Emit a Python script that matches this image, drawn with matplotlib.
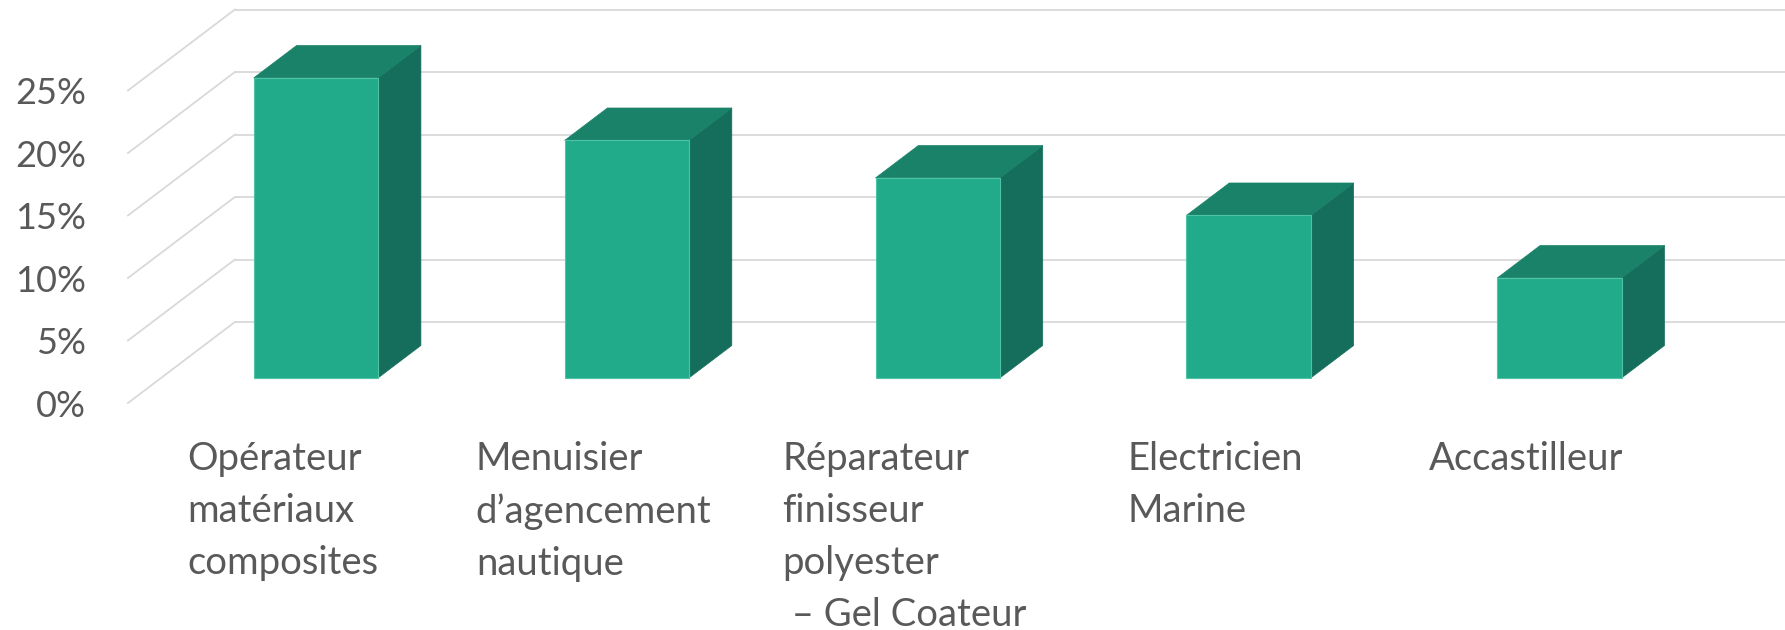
import matplotlib
matplotlib.use("Agg")
import matplotlib.pyplot as plt
from matplotlib.patches import Polygon

# ----------------------------------------------------------------------
# ## Data
# ----------------------------------------------------------------------

metiers = [
    "Opérateur\nmatériaux\ncomposites",
    "Menuisier\nd’agencement\nnautique",
    "Réparateur\nfinisseur\npolyester\n – Gel Coateur",
    "Electricien\nMarine",
    "Accastilleur",
]
parts = [24, 19, 16, 13, 8]          # in %
y_ticks = [0, 5, 10, 15, 20, 25]
y_tick_labels = ["0%", "5%", "10%", "15%", "20%", "25%"]

# ----------------------------------------------------------------------
# ## Look (Excel style 3D columns)
# ----------------------------------------------------------------------

FRONT = "#21AB8A"
TOP = "#1B826A"
SIDE = "#156E5C"
GRID = "#D9D9D9"
TEXT = "#595959"

# oblique depth of the whole plot box, in data units (categories, percent)
DEPTH_X = 0.344
DEPTH_Y = 6.48
# bars live between these fractions of the depth
BAR_FRONT, BAR_BACK = 0.31, 0.71
BAR_WIDTH = 0.40
LEFT_WALL = -0.498

plt.rcParams['font.family'] = ['Lato', 'DejaVu Sans']

fig = plt.figure(figsize=(17.85, 6.30), dpi=100)
ax = fig.add_axes([0, 0, 1, 1])
ax.set_xlim(-0.9096, 4.8318)
ax.set_ylim(-18.16, 32.24)
ax.axis('off')

# ----------------------------------------------------------------------
# ## Walls: gridlines on the back wall and diagonals on the left wall
# ----------------------------------------------------------------------

back_x0 = LEFT_WALL + DEPTH_X
for v in y_ticks:
    ax.plot([back_x0, 5.0], [v + DEPTH_Y, v + DEPTH_Y], color=GRID, lw=1.3,
            solid_capstyle='butt', zorder=1)
    ax.plot([LEFT_WALL, back_x0], [v, v + DEPTH_Y], color=GRID, lw=1.3, zorder=1)

for v, lab in zip(y_ticks, y_tick_labels):
    ax.text(-0.632, v - 0.25, lab, ha='right', va='center', fontsize=26,
            color=TEXT)

# ----------------------------------------------------------------------
# ## Bars
# ----------------------------------------------------------------------

bdx = (BAR_BACK - BAR_FRONT) * DEPTH_X
bdy = (BAR_BACK - BAR_FRONT) * DEPTH_Y
for i, v in enumerate(parts):
    xl = i - BAR_WIDTH / 2 + BAR_FRONT * DEPTH_X
    xr = xl + BAR_WIDTH
    yb = BAR_FRONT * DEPTH_Y
    yt = yb + v
    side = [(xr, yb), (xr + bdx, yb + bdy), (xr + bdx, yt + bdy), (xr, yt)]
    top = [(xl, yt), (xr, yt), (xr + bdx, yt + bdy), (xl + bdx, yt + bdy)]
    front = [(xl, yb), (xr, yb), (xr, yt), (xl, yt)]
    ax.add_patch(Polygon(side, closed=True, fc=SIDE, ec=SIDE, lw=0.5, zorder=3))
    ax.add_patch(Polygon(top, closed=True, fc=TOP, ec=TOP, lw=0.5, zorder=3))
    ax.add_patch(Polygon(front, closed=True, fc=FRONT, ec="#4FC3A5", lw=0.8, zorder=4))

# ----------------------------------------------------------------------
# ## Category labels
# ----------------------------------------------------------------------

for i, lab in enumerate(metiers):
    ax.text(i, -3.05, lab, ha='center', va='top', multialignment='left',
            fontsize=27.5, color=TEXT, linespacing=1.55)

fig.savefig("out.png", dpi=100)
